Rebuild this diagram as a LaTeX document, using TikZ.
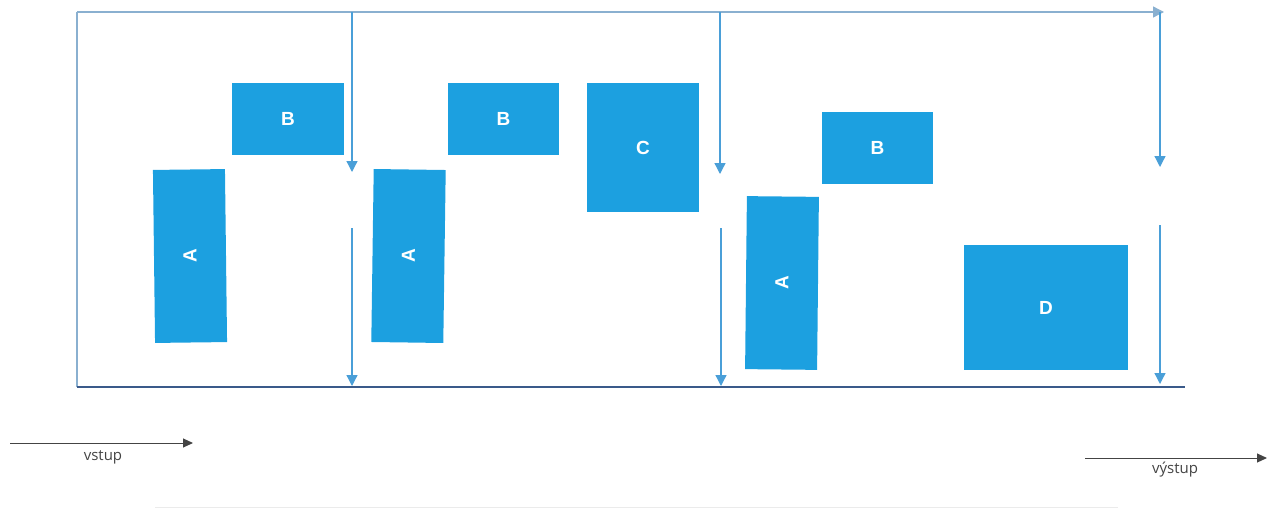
\documentclass[tikz,border=0pt]{standalone}
\usepackage{fontspec}
\setmainfont{Open Sans}
\newfontfamily\lblfont{Liberation Sans}
\usetikzlibrary{arrows.meta}
\definecolor{boxblue}{HTML}{1CA0E0}
\definecolor{arrblue}{HTML}{4A9FD8}
\definecolor{frameblue}{HTML}{8AB0D0}
\definecolor{basenavy}{HTML}{3A5A8A}
\definecolor{txtgray}{HTML}{444444}
\tikzset{
  blk/.style={fill=boxblue, draw=none, inner sep=0pt, text=white, font=\lblfont\bfseries\fontsize{19}{19}\selectfont},
  flow/.style={draw=arrblue, line width=1.3pt, -{Triangle[length=11pt,width=11pt]}},
  io/.style={draw=txtgray, line width=1pt, -{Triangle[length=10pt,width=9pt]}},
  iolbl/.style={text=txtgray, font=\fontsize{15}{15}\selectfont}
}
\begin{document}
\begin{tikzpicture}[x=1pt,y=-1pt]
\useasboundingbox (0,0) rectangle (1275,509);
% frame
\coordinate (tl) at (77,12);
\coordinate (bl) at (77,387);
\coordinate (tr) at (1164,12);
\coordinate (br) at (1185,387);
\draw[frameblue, line width=1.3pt] (bl) -- (tl);
\draw[flow, draw=frameblue] (tl) -- (tr);
\draw[basenavy, line width=1.3pt] (bl) -- (br);
% vertical arrows
\coordinate (v1a) at (352,12);  \coordinate (v1b) at (352,172);
\coordinate (v1c) at (352,228); \coordinate (v1d) at (352,386);
\coordinate (v2a) at (720,12);  \coordinate (v2b) at (720,174);
\coordinate (v2c) at (721,228); \coordinate (v2d) at (721,386);
\coordinate (v3a) at (1160,12); \coordinate (v3b) at (1160,167);
\coordinate (v3c) at (1160,225);\coordinate (v3d) at (1160,384);
\draw[flow] (v1a) -- (v1b);
\draw[flow] (v1c) -- (v1d);
\draw[flow] (v2a) -- (v2b);
\draw[flow] (v2c) -- (v2d);
\draw[flow] (v3a) -- (v3b);
\draw[flow] (v3c) -- (v3d);
% boxes
\node[blk, minimum width=112pt, minimum height=72pt] (b1) at (288,119) {B};
\node[blk, minimum width=111pt, minimum height=72pt] (b2) at (503.5,119) {B};
\node[blk, minimum width=112pt, minimum height=129pt] (c) at (643,147.5) {C};
\node[blk, minimum width=111pt, minimum height=72pt] (b3) at (877.5,148) {B};
\node[blk, minimum width=164pt, minimum height=125pt] (d) at (1046,307.5) {D};
\node[blk, minimum width=72pt, minimum height=173pt, rotate=0.7] (a1) at (190,256) {\rotatebox{90}{A}};
\node[blk, minimum width=72pt, minimum height=173pt, rotate=-0.8] (a2) at (408.5,256) {\rotatebox{90}{A}};
\node[blk, minimum width=72pt, minimum height=173pt, rotate=-0.6] (a3) at (782,283) {\rotatebox{90}{A}};
% input / output
\coordinate (in1) at (10,443);  \coordinate (in2) at (193,443);
\coordinate (out1) at (1085,458); \coordinate (out2) at (1267,458);
\draw[io] (in1) -- (in2);
\draw[io] (out1) -- (out2);
\node[iolbl] (vin) at (103,457) {vstup};
\node[iolbl] (vout) at (1175,470) {výstup};
% faint bottom line
\coordinate (f1) at (155,507); \coordinate (f2) at (1118,507);
\draw[black!8, line width=1pt] (f1) -- (f2);
\end{tikzpicture}
\end{document}
